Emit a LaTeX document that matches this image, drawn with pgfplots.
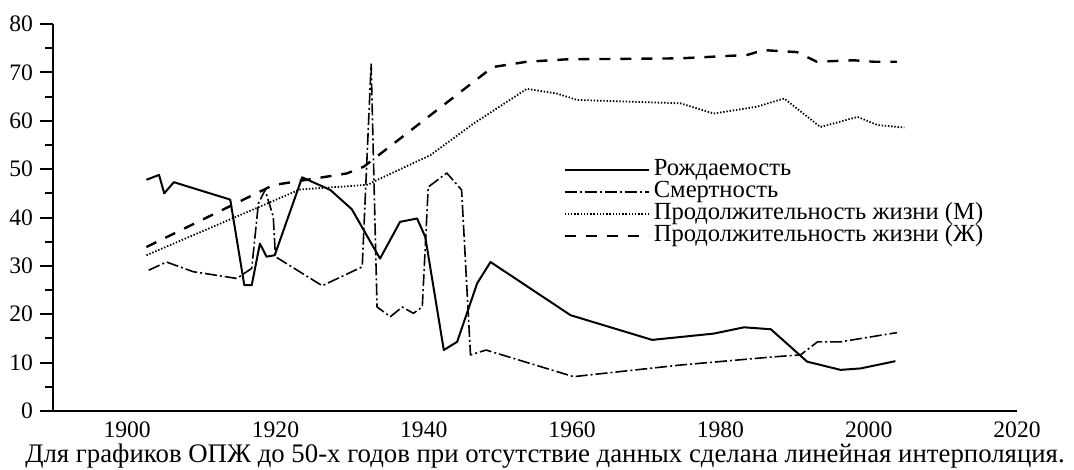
\documentclass[border=0pt]{standalone}
\usepackage{fontspec}
\setmainfont{Liberation Serif}
\usepackage{pgfplots}
\pgfplotsset{compat=1.18}
\begin{document}
\begin{tikzpicture}
\begin{axis}[
 name=ax,
 scale only axis, width=482pt, height=193.5pt,
 xmin=1890, xmax=2020, ymin=0, ymax=80,
 axis lines*=left,
 x axis line style={line width=0.8pt},
 y axis line style={line width=1.2pt},
 xtick={1900,1920,...,2020},
 ytick={0,10,...,80},
 minor y tick num=1,
 tick align=outside,
 major tick length=6.5pt, minor tick length=4pt,
 x tick style={draw=none},
 y tick style={line width=1pt, black},
 tick label style={font=\fontsize{11.8}{13}\selectfont},
 xticklabel style={yshift=4.5pt},
 /pgf/number format/1000 sep={},
 /pgf/number format/assume math mode=true,
 legend style={draw=none, fill=none, at={(0.529,0.652)}, anchor=north west,
   font=\fontsize{12.3}{14}\selectfont, inner sep=0pt, row sep=0pt,
   nodes={text height=8.4pt, text depth=2.6pt, inner ysep=0pt}},
 legend cell align=left,
 legend image code/.code={\draw[#1] (0pt,0pt) -- (42pt,0pt);},
 every axis plot/.append style={black, line join=round},
]
\addplot[line width=1pt] coordinates {
(1902.6,47.8) (1904.3,48.8) (1905.0,45.0) (1906.3,47.3) (1913.9,43.7) (1915.8,26.0) (1916.8,26.0) (1917.9,34.6) (1918.8,31.9) (1919.9,32.2) (1923.6,48.3) (1927.4,45.7) (1930.3,41.7) (1931.9,37.4) (1934.1,31.5) (1936.8,39.1) (1939.1,39.8) (1940.2,36.0) (1942.7,12.6) (1944.5,14.3) (1947.2,26.4) (1949.0,30.8) (1959.8,19.8) (1970.8,14.7) (1979.1,16.0) (1983.2,17.3) (1986.8,16.9) (1991.7,10.2) (1996.2,8.5) (1998.9,8.8) (2003.6,10.3)
};
\addlegendentry{Рождаемость}
\addplot[line width=0.8pt, dash pattern=on 6pt off 1.5pt on 1pt off 1.5pt] coordinates {
(1902.9,29.1) (1905.3,30.8) (1908.9,28.8) (1914.8,27.4) (1916.8,29.5) (1917.7,42.9) (1918.6,45.7) (1919.7,40.2) (1920.0,31.9) (1926.3,25.9) (1931.7,29.8) (1932.9,71.7) (1933.7,21.5) (1935.5,19.5) (1937.1,21.5) (1938.6,20.2) (1939.8,21.5) (1940.6,46.3) (1943.1,49.2) (1945.1,45.7) (1946.3,11.6) (1948.4,12.6) (1960.2,7.1) (1974.6,9.5) (1987.2,11.2) (1990.8,11.6) (1993.1,14.3) (1996.2,14.3) (2003.8,16.2)
};
\addlegendentry{Смертность}
\addplot[line width=0.9pt, dash pattern=on 0.7pt off 0.9pt] coordinates {
(1902.6,32.2) (1923.3,45.8) (1930.1,46.5) (1932.5,46.8) (1933.5,47.6) (1940.9,52.9) (1946.7,59.4) (1953.9,66.6) (1958.0,65.6) (1960.7,64.3) (1974.6,63.6) (1979.1,61.5) (1984.9,62.9) (1988.6,64.6) (1993.5,58.7) (1998.5,60.8) (2001.2,59.1) (2004.8,58.6)
};
\addlegendentry{Продолжительность жизни (М)}
\addplot[line width=1.2pt, dash pattern=on 5.5pt off 5pt] coordinates {
(1902.6,33.9) (1919.7,46.7) (1929.6,49.1) (1931.9,50.5) (1949.3,71.1) (1953.9,72.2) (1959.3,72.7) (1974.6,72.9) (1983.6,73.6) (1985.8,74.6) (1990.3,74.2) (1993.0,72.2) (1998.0,72.5) (2000.7,72.2) (2003.8,72.2)
};
\addlegendentry{Продолжительность жизни (Ж)}
\end{axis}
\path (ax.south west) ++(246pt,-26pt) node[anchor=base, inner sep=0pt, font=\fontsize{13.4}{15}\selectfont]{Для графиков ОПЖ до 50-х годов при отсутствие данных сделана линейная интерполяция.};
\pgfresetboundingbox
\path ([xshift=-26.5pt,yshift=-29.5pt]ax.south west) rectangle ([xshift=510.5pt,yshift=205.5pt]ax.south west);
\end{tikzpicture}
\end{document}
